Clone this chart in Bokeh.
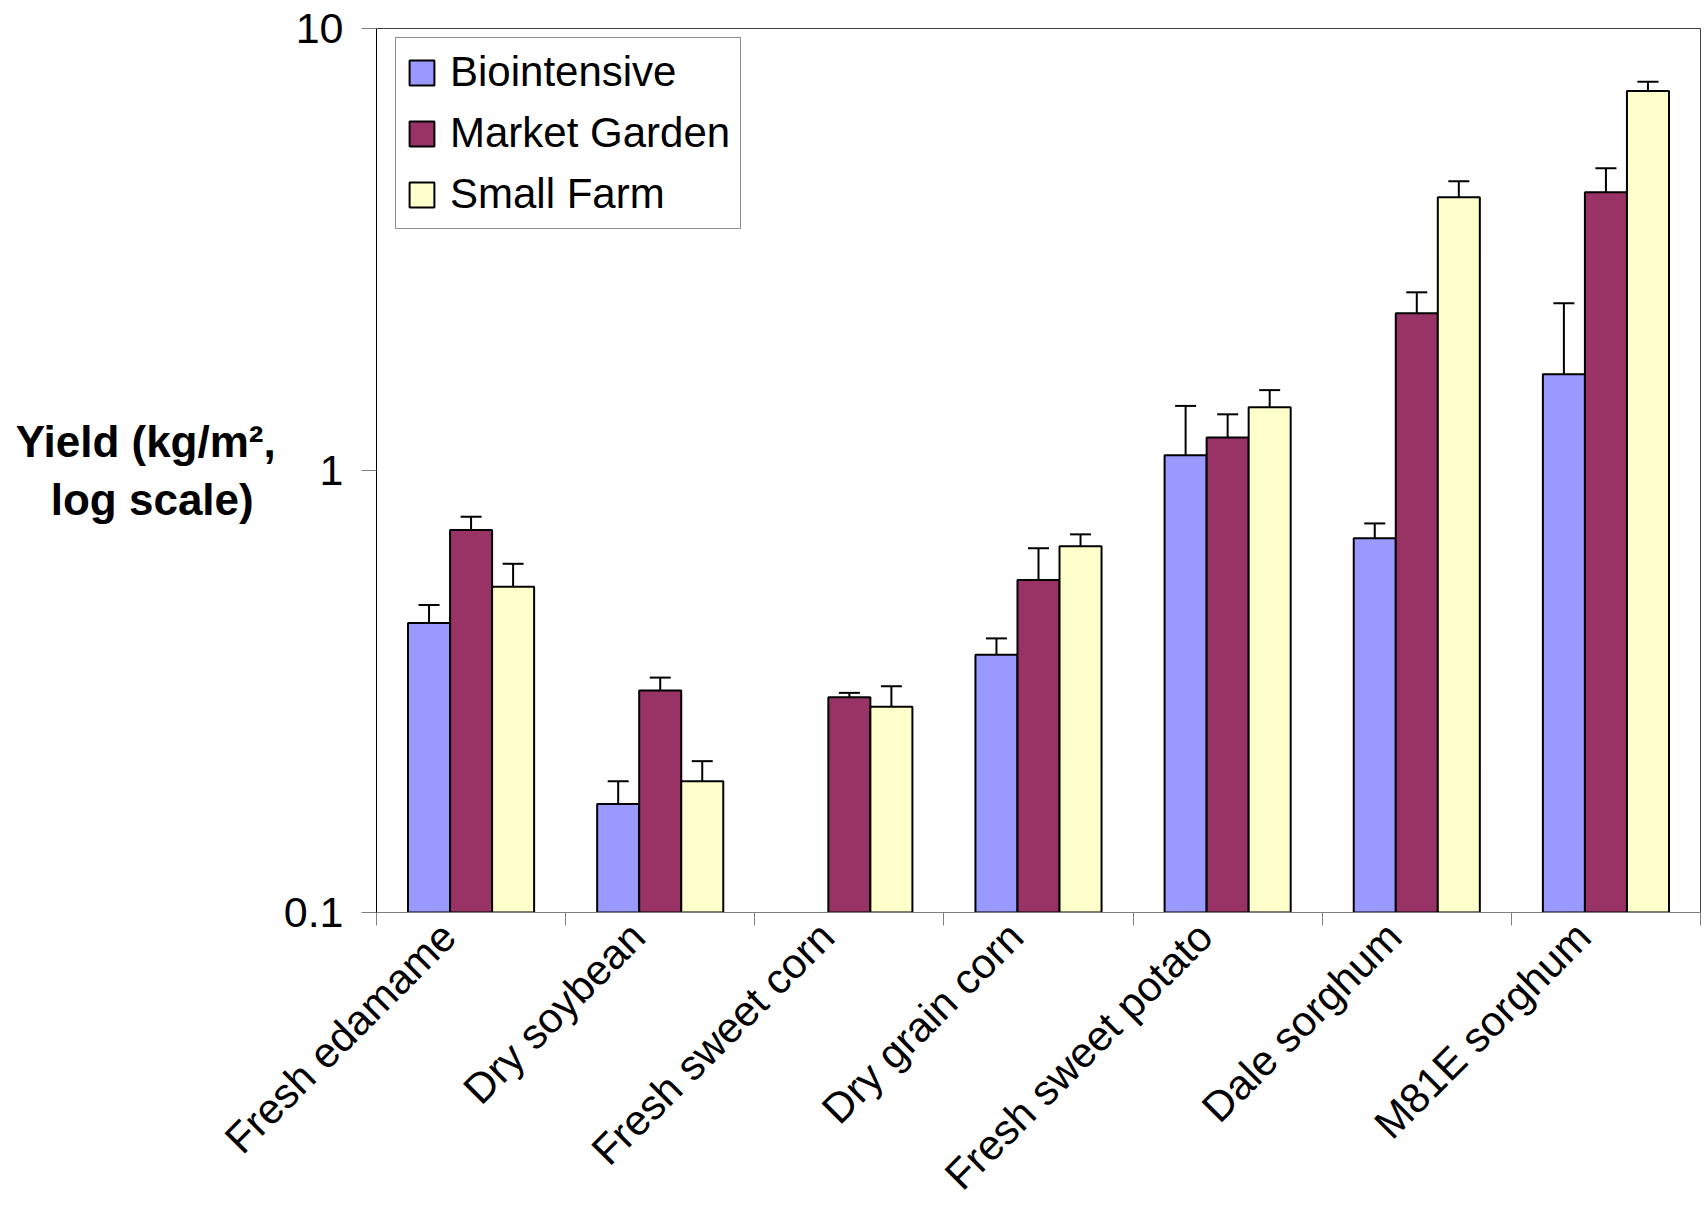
import numpy as np
from bokeh.plotting import figure
from bokeh.models import (ColumnDataSource, Range1d, FixedTicker, Whisker, TeeHead,
                          Legend, LegendItem)
from bokeh.embed import file_html
from bokeh.resources import INLINE

# ---- data ----
crops = ["Fresh edamame", "Dry soybean", "Fresh sweet corn", "Dry grain corn",
         "Fresh sweet potato", "Dale sorghum", "M81E sorghum"]
series = ["Biointensive", "Market Garden", "Small Farm"]
biointensive = [0.452, 0.176, None, 0.383, 1.083, 0.703, 1.65]
biointensive_err = [0.044, 0.022, None, 0.034, 0.317, 0.056, 0.74]
market_garden = [0.733, 0.318, 0.307, 0.565, 1.187, 2.27, 4.26]
market_garden_err = [0.053, 0.022, 0.007, 0.102, 0.153, 0.26, 0.57]
small_farm = [0.546, 0.198, 0.292, 0.674, 1.39, 4.15, 7.22]
small_farm_err = [0.069, 0.022, 0.033, 0.043, 0.13, 0.36, 0.36]
y_ticks = [0.1, 1, 10]
y_tick_labels = ["0.1", "1", "10"]
y_title = ["Yield (kg/m\u00b2,", "log scale)"]

# ---- styles ----
FONT = "Liberation Sans"
colors = ["#9999FF", "#993366", "#FFFFCC"]
bar_w = 2 / 9
offsets = [-bar_w, 0, bar_w]
label_shift = -0.12

W, H = 1708, 1218
MB_L, MB_R, MB_T, MB_B = 376, 8, 28, 303
frame_h = H - MB_T - MB_B

p = figure(width=W, height=H, x_range=Range1d(-0.5, len(crops) - 0.5),
           y_range=Range1d(0.1, 10), y_axis_type="log",
           output_backend="svg", toolbar_location=None,
           min_border_left=MB_L, min_border_right=MB_R,
           min_border_top=MB_T, min_border_bottom=MB_B)
p.background_fill_color = "white"
p.border_fill_color = "white"
p.outline_line_color = "#404040"
p.outline_line_width = 1
p.xgrid.visible = False
p.ygrid.visible = False

vals = [biointensive, market_garden, small_farm]
errs = [biointensive_err, market_garden_err, small_farm_err]
items = []
for name, v, e, c, off in zip(series, vals, errs, colors, offsets):
    idx = [i for i, val in enumerate(v) if val is not None]
    src = ColumnDataSource(dict(
        x=[i + off for i in idx],
        top=[v[i] for i in idx],
        up=[v[i] + e[i] for i in idx],
    ))
    r = p.vbar(x="x", top="top", bottom=0.1, width=bar_w, source=src,
               fill_color=c, line_color="black", line_width=2)
    items.append(LegendItem(label=name, renderers=[r]))
    p.add_layout(Whisker(source=src, base="x", lower="top", upper="up",
                         dimension="height", line_color="black", line_width=2,
                         upper_head=TeeHead(size=21, line_color="black", line_width=2),
                         lower_head=None))

legend = Legend(items=items, location=(19, frame_h - 14 - 190),
                label_text_font=FONT, label_text_font_size="42px",
                label_text_color="black",
                glyph_width=31, glyph_height=31, label_standoff=13,
                label_height=48, spacing=13, padding=10, margin=0,
                border_line_color="#202020", border_line_width=1,
                background_fill_color="white", background_fill_alpha=1)
p.add_layout(legend, "center")

# x axis: boundary ticks as minor ticks, category labels on (hidden) major ticks
xa = p.xaxis[0]
label_pos = [i + label_shift for i in range(len(crops))]
xa.ticker = FixedTicker(ticks=label_pos,
                        minor_ticks=[i - 0.5 for i in range(len(crops) + 1)])
xa.major_label_overrides = {t: c for t, c in zip(label_pos, crops)}
xa.major_label_orientation = np.pi / 4
xa.major_tick_line_color = None
xa.major_tick_out = 0
xa.major_tick_in = 0
xa.minor_tick_out = 13
xa.minor_tick_in = 0
xa.minor_tick_line_color = "#808080"
xa.axis_line_color = "#808080"
xa.major_label_text_font = FONT
xa.major_label_text_font_size = "42px"
xa.major_label_text_color = "black"
xa.major_label_standoff = 4

# y axis
ya = p.yaxis[0]
ya.ticker = FixedTicker(ticks=y_ticks, minor_ticks=[])
ya.major_label_overrides = {t: l for t, l in zip(y_ticks, y_tick_labels)}
ya.major_tick_out = 15
ya.major_tick_in = 0
ya.major_tick_line_color = "#808080"
ya.minor_tick_line_color = None
ya.axis_line_color = "black"
ya.major_label_text_font = FONT
ya.major_label_text_font_size = "43px"
ya.major_label_text_color = "black"
ya.major_label_standoff = 18

# y title: horizontal, two lines (second line nudged left with an en space,
# since the label lines are right-aligned)
ya.axis_label = y_title[0] + "\n" + y_title[1] + "\u2002"
ya.axis_label_text_font = FONT
ya.axis_label_text_font_style = "bold"
ya.axis_label_text_font_size = "44px"
ya.axis_label_text_color = "black"
ya.axis_label_standoff = 5
try:
    ya.axis_label_orientation = "horizontal"
except Exception:
    pass

open("out.html", "w").write(file_html(p, INLINE))
